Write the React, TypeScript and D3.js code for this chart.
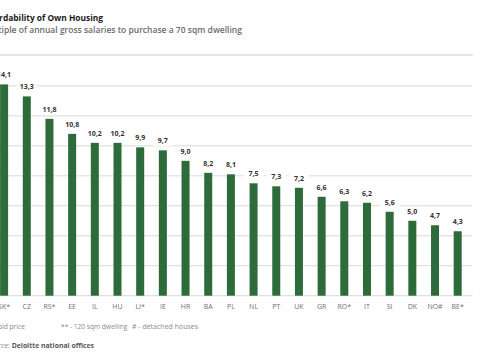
import React from "react";
import * as d3 from "d3";

const categories = ["SK*", "CZ", "RS*", "EE", "IL", "HU", "LI*", "IE", "HR", "BA", "PL", "NL", "PT", "UK", "GR", "RO*", "IT", "SI", "DK", "NO#", "BE*"];
const values = [14.1, 13.3, 11.8, 10.8, 10.2, 10.2, 9.9, 9.7, 9.0, 8.2, 8.1, 7.5, 7.3, 7.2, 6.6, 6.3, 6.2, 5.6, 5.0, 4.7, 4.3];
const yTicks = [0, 2, 4, 6, 8, 10, 12, 14];
const title = "Affordability of Own Housing";
const subtitle = "Multiple of annual gross salaries to purchase a 70 sqm dwelling";
const footnotes = ["* - bid price", "** - 120 sqm dwelling", "# - detached houses"];
const sourceLabel = "Source: ";
const sourceText = "Deloitte national offices";

const W = 485;
const H = 360;
const FONT = "'Open Sans', 'Noto Sans', sans-serif";

export default function App() {
  const x = d3.scaleBand<string>().domain(categories).range([-7.24, 469.04]).paddingInner(0.647).paddingOuter(0.3235);
  const y = d3.scaleLinear().domain([0, 14]).range([295.7, 85.9]);
  const fmt = (v: number) => d3.format(".1f")(v).replace(".", ",");
  const bw = x.bandwidth();

  return (
    <svg width={W} height={H} style={{ position: "absolute", left: 0, top: 0, background: "#fff" }} fontFamily={FONT}>
      <rect x={0} y={0} width={W} height={H} fill="#fff" />
      <text x={103} y={20.5} textAnchor="end" fontSize={8.4} fontWeight={700} fill="#1a1a1a">{title}</text>
      <text x={242} y={33} textAnchor="end" fontSize={8.52} fontWeight={600} fill="#6b6b6b">{subtitle}</text>
      <line x1={-10} x2={472.7} y1={55} y2={55} stroke="#dcdcdc" strokeWidth={1.3} />

      {yTicks.map((t) => (
        <line key={t} x1={-10} x2={472.5} y1={y(t)} y2={y(t)} stroke="#d9d9d9" strokeWidth={1} />
      ))}

      {categories.map((c, i) => (
        <rect key={c} x={x(c)} y={y(values[i])} width={bw} height={y(0) - y(values[i])} fill="#2e6b3a" />
      ))}

      {categories.map((c, i) => {
        const cx = (x(c) as number) + bw / 2;
        const ty = y(values[i]) - 7;
        return (
          <g key={"l" + c}>
            <rect x={cx - 10} y={ty - 7} width={20} height={9.5} fill="#fff" />
            <text x={cx} y={ty} textAnchor="middle" fontSize={7} fontWeight={700} fill="#333">{fmt(values[i])}</text>
          </g>
        );
      })}

      {categories.map((c) => (
        <text key={"c" + c} x={(x(c) as number) + bw / 2} y={309} textAnchor="middle" fontSize={7} fill="#707070">{c}</text>
      ))}

      <text x={25} y={328.5} textAnchor="end" fontSize={6.7} fill="#8a8a8a">{footnotes[0]}</text>
      <text x={61} y={328.5} fontSize={6.6} fill="#8a8a8a">{footnotes[1]}</text>
      <text x={132} y={328.5} fontSize={7} fill="#8a8a8a">{footnotes[2]}</text>

      <text x={94} y={348} textAnchor="end" fontSize={6.85} fill="#8a8a8a">
        <tspan>{sourceLabel}</tspan>
        <tspan fontWeight={700} fill="#5a5a5a">{sourceText}</tspan>
      </text>
    </svg>
  );
}
